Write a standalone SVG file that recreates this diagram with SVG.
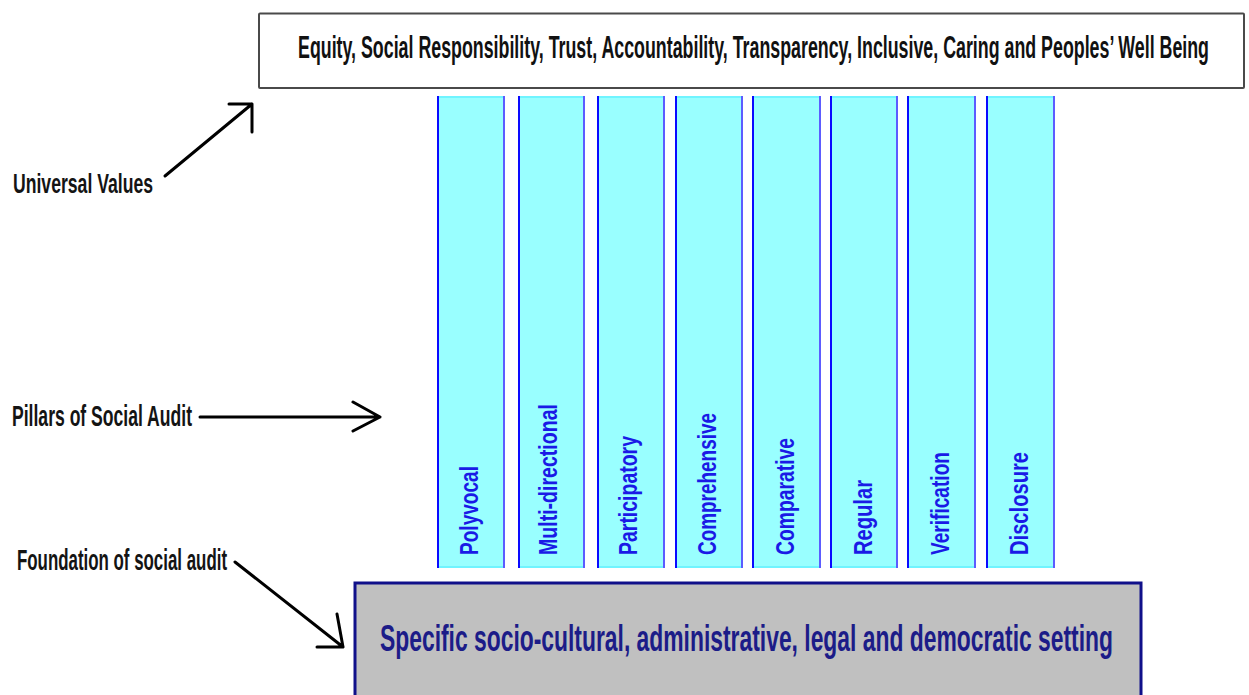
<svg xmlns="http://www.w3.org/2000/svg" width="1249" height="695" viewBox="0 0 1249 695">
<style>
.t{font-family:"Liberation Sans",Arial,sans-serif;font-weight:bold}
.lbl{fill:#141414}
.pill rect{fill:#99ffff}
.pill .tl{stroke:#70f4ff;stroke-width:2}
.pill .ll{stroke:#0a0aff;stroke-width:2}
.pill .rl{stroke:#5c5cff;stroke-width:2}
.ptxt{fill:#1a1ae6;font-size:25px}
.arr{stroke:#000;stroke-width:3;fill:none;stroke-linecap:round;stroke-linejoin:round}
</style>
<rect width="1249" height="695" fill="#fff"/>
<g id="values">
<rect x="259" y="13.5" width="985" height="74.5" fill="#fff" stroke="#4a4a4a" stroke-width="2" rx="1"/>
<text class="t" x="298" y="58" font-size="31" fill="#111" textLength="911" lengthAdjust="spacingAndGlyphs">Equity, Social Responsibility, Trust, Accountability, Transparency, Inclusive, Caring and Peoples’ Well Being</text>
</g>
<g id="pillars" class="pill">
<g id="p1"><rect x="437" y="96" width="68" height="472"/><line class="tl" x1="437" y1="97" x2="505" y2="97"/><line class="tl" x1="437" y1="567" x2="505" y2="567"/><line class="ll" x1="438" y1="96" x2="438" y2="568"/><line class="rl" x1="504" y1="96" x2="504" y2="568"/><text class="t ptxt" transform="translate(478,555) rotate(-90)" textLength="89" lengthAdjust="spacingAndGlyphs">Polyvocal</text></g>
<g id="p2"><rect x="518" y="96" width="67" height="472"/><line class="tl" x1="518" y1="97" x2="585" y2="97"/><line class="tl" x1="518" y1="567" x2="585" y2="567"/><line class="ll" x1="519" y1="96" x2="519" y2="568"/><line class="rl" x1="584" y1="96" x2="584" y2="568"/><text class="t ptxt" transform="translate(557,555) rotate(-90)" textLength="151" lengthAdjust="spacingAndGlyphs">Multi-directional</text></g>
<g id="p3"><rect x="597" y="96" width="68" height="472"/><line class="tl" x1="597" y1="97" x2="665" y2="97"/><line class="tl" x1="597" y1="567" x2="665" y2="567"/><line class="ll" x1="598" y1="96" x2="598" y2="568"/><line class="rl" x1="664" y1="96" x2="664" y2="568"/><text class="t ptxt" transform="translate(637,555) rotate(-90)" textLength="119" lengthAdjust="spacingAndGlyphs">Participatory</text></g>
<g id="p4"><rect x="675" y="96" width="68" height="472"/><line class="tl" x1="675" y1="97" x2="743" y2="97"/><line class="tl" x1="675" y1="567" x2="743" y2="567"/><line class="ll" x1="676" y1="96" x2="676" y2="568"/><line class="rl" x1="742" y1="96" x2="742" y2="568"/><text class="t ptxt" transform="translate(716,555) rotate(-90)" textLength="142" lengthAdjust="spacingAndGlyphs">Comprehensive</text></g>
<g id="p5"><rect x="752" y="96" width="69" height="472"/><line class="tl" x1="752" y1="97" x2="821" y2="97"/><line class="tl" x1="752" y1="567" x2="821" y2="567"/><line class="ll" x1="753" y1="96" x2="753" y2="568"/><line class="rl" x1="820" y1="96" x2="820" y2="568"/><text class="t ptxt" transform="translate(794,555) rotate(-90)" textLength="117" lengthAdjust="spacingAndGlyphs">Comparative</text></g>
<g id="p6"><rect x="830" y="96" width="68" height="472"/><line class="tl" x1="830" y1="97" x2="898" y2="97"/><line class="tl" x1="830" y1="567" x2="898" y2="567"/><line class="ll" x1="831" y1="96" x2="831" y2="568"/><line class="rl" x1="897" y1="96" x2="897" y2="568"/><text class="t ptxt" transform="translate(872,555) rotate(-90)" textLength="75" lengthAdjust="spacingAndGlyphs">Regular</text></g>
<g id="p7"><rect x="907" y="96" width="69" height="472"/><line class="tl" x1="907" y1="97" x2="976" y2="97"/><line class="tl" x1="907" y1="567" x2="976" y2="567"/><line class="ll" x1="908" y1="96" x2="908" y2="568"/><line class="rl" x1="975" y1="96" x2="975" y2="568"/><text class="t ptxt" transform="translate(949,555) rotate(-90)" textLength="103" lengthAdjust="spacingAndGlyphs">Verification</text></g>
<g id="p8"><rect x="986" y="96" width="69" height="472"/><line class="tl" x1="986" y1="97" x2="1055" y2="97"/><line class="tl" x1="986" y1="567" x2="1055" y2="567"/><line class="ll" x1="987" y1="96" x2="987" y2="568"/><line class="rl" x1="1054" y1="96" x2="1054" y2="568"/><text class="t ptxt" transform="translate(1028,555) rotate(-90)" textLength="103" lengthAdjust="spacingAndGlyphs">Disclosure</text></g>
</g>
<g id="foundation">
<rect x="355" y="583" width="786" height="130" fill="#c0c0c0" stroke="#10108a" stroke-width="3"/>
<text class="t" x="380" y="651" font-size="37" fill="#1c1c88" textLength="733" lengthAdjust="spacingAndGlyphs">Specific socio-cultural, administrative, legal and democratic setting</text>
</g>
<g id="label-universal"><text class="t lbl" x="13" y="193" font-size="27" textLength="140" lengthAdjust="spacingAndGlyphs">Universal Values</text></g>
<g id="label-pillars"><text class="t lbl" x="12" y="426" font-size="30" textLength="180" lengthAdjust="spacingAndGlyphs">Pillars of Social Audit</text></g>
<g id="label-foundation"><text class="t lbl" x="17" y="570" font-size="29" textLength="210" lengthAdjust="spacingAndGlyphs">Foundation of social audit</text></g>
<g id="connectors">
<path class="arr" d="M165,176 L252,104 M229,104 L252,104 L252,132"/>
<path class="arr" d="M200,417 L380,417 M353,402 L380,417 L353,431"/>
<path class="arr" d="M235,562 L343,647 M337,614 L343,647 L317,647"/>
</g>
</svg>
